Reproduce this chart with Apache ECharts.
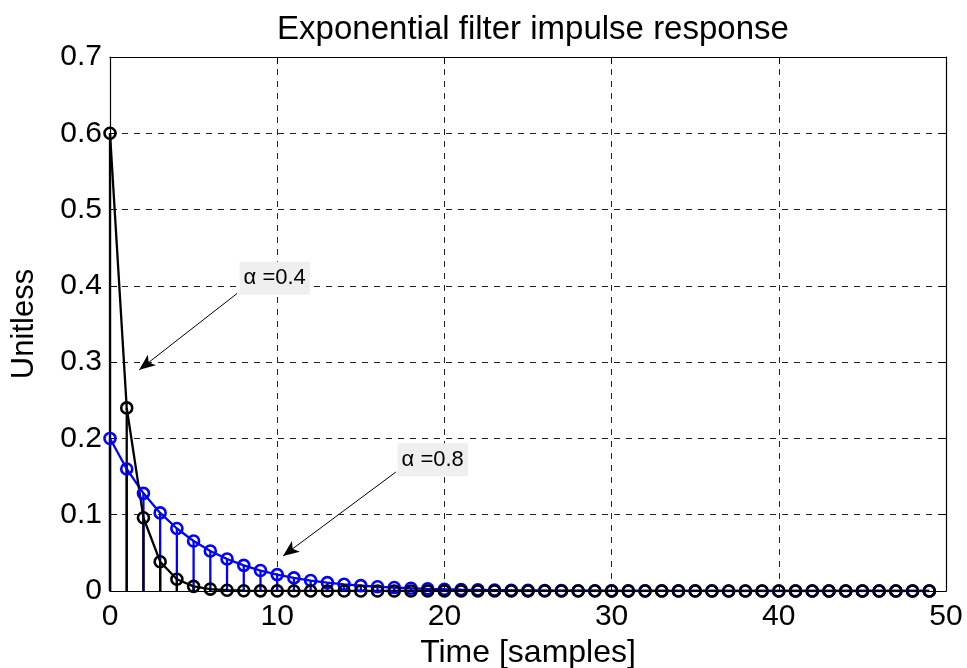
<!DOCTYPE html>
<html>
<head>
<meta charset="utf-8">
<script src="https://cdn.jsdelivr.net/npm/echarts@6/dist/echarts.min.js"></script>
<style>
  html, body { margin: 0; padding: 0; background: #ffffff; }
  #chart { width: 967px; height: 668px; }
</style>
</head>
<body>
<div id="chart"></div>
<script>
// Sample index (time in samples)
const samples = [0,1,2,3,4,5,6,7,8,9,10,11,12,13,14,15,16,17,18,19,20,21,22,23,24,
  25,26,27,28,29,30,31,32,33,34,35,36,37,38,39,40,41,42,43,44,45,46,47,48,49];

// Impulse response, alpha = 0.4 (black)
const respAlpha04 = [0.6,0.24,0.096,0.0384,0.0154,0.0061,0.0025,0.001,0.0004,0.0002,
  0.0001,0,0,0,0,0,0,0,0,0,0,0,0,0,0,0,0,0,0,0,0,0,0,0,0,0,0,0,0,0,0,0,0,0,0,0,0,0,0,0];

// Impulse response, alpha = 0.8 (blue)
const respAlpha08 = [0.2,0.16,0.128,0.1024,0.0819,0.0655,0.0524,0.0419,0.0336,0.0268,
  0.0215,0.0172,0.0137,0.011,0.0088,0.007,0.0056,0.0045,0.0036,0.0029,
  0.0023,0.0018,0.0015,0.0012,0.0009,0.0008,0.0006,0.0005,0.0004,0.0003,
  0.0002,0.0002,0.0002,0.0001,0.0001,0.0001,0.0001,0,0,0,0,0,0,0,0,0,0,0,0,0];

const xTicks = [0,10,20,30,40,50];
const yTicks = [0,0.1,0.2,0.3,0.4,0.5,0.6,0.7];

// Annotation text and arrow endpoints (data units)
const annotations = [
  { text: 'α =0.4', box: [9.85, 0.41], from: [7.6, 0.39], to: [1.75, 0.29] },
  { text: 'α =0.8', box: [19.3, 0.172], from: [17.1, 0.156], to: [10.35, 0.046] }
];

const FONT = '"Liberation Sans", Arial, Helvetica, sans-serif';

function pairs(ys) { return samples.map((x, i) => [x, ys[i]]); }

function stemSeries(ys, color) {
  return {
    type: 'custom',
    data: pairs(ys),
    silent: true,
    renderItem: function (params, api) {
      const p0 = api.coord([api.value(0), 0]);
      const p1 = api.coord([api.value(0), api.value(1)]);
      return {
        type: 'line',
        shape: { x1: p0[0], y1: p0[1], x2: p1[0], y2: p1[1] },
        style: { stroke: color, lineWidth: 2.3 }
      };
    }
  };
}

function lineSeries(ys, color, extra) {
  return Object.assign({
    type: 'line',
    data: pairs(ys),
    symbol: 'circle',
    symbolSize: 11,
    showAllSymbol: true,
    silent: true,
    animation: false,
    lineStyle: { color: color, width: 2.3 },
    itemStyle: { color: 'rgba(0,0,0,0)', borderColor: color, borderWidth: 2.6 }
  }, extra || {});
}

const chart = echarts.init(document.getElementById('chart'), null, { renderer: 'canvas' });

const axisCommon = {
  type: 'value',
  axisLine: { show: true, onZero: false, lineStyle: { color: '#000', width: 1.2 } },
  axisTick: { show: true, inside: true, length: 7, lineStyle: { color: '#000', width: 1 } }
};

chart.setOption({
  animation: false,
  backgroundColor: '#ffffff',
  title: {
    text: 'Exponential filter impulse response',
    left: 528, top: 8, textAlign: 'center',
    textStyle: { fontFamily: FONT, fontSize: 33, fontWeight: 'normal', color: '#000' }
  },
  grid: { left: 110, right: 21, top: 57, bottom: 77, containLabel: false, outerBoundsMode: 'none' },
  xAxis: [
    Object.assign({}, axisCommon, {
      min: xTicks[0], max: xTicks[xTicks.length - 1], interval: 10,
      position: 'bottom',
      name: 'Time [samples]', nameLocation: 'middle', nameGap: 37,
      nameTextStyle: { fontFamily: FONT, fontSize: 32, color: '#000' },
      axisLabel: { fontFamily: FONT, fontSize: 30, color: '#000', margin: 11 },
      splitLine: { show: true, lineStyle: { color: '#222', width: 1, type: [6, 6] } }
    }),
    Object.assign({}, axisCommon, {
      min: xTicks[0], max: xTicks[xTicks.length - 1], interval: 10,
      position: 'top', axisLabel: { show: false }, splitLine: { show: false }
    })
  ],
  yAxis: [
    Object.assign({}, axisCommon, {
      min: yTicks[0], max: yTicks[yTicks.length - 1], interval: 0.1,
      position: 'left',
      name: 'Unitless', nameLocation: 'middle', nameGap: 70, nameRotate: 90,
      nameTextStyle: { fontFamily: FONT, fontSize: 31, color: '#000' },
      axisLabel: {
        fontFamily: FONT, fontSize: 30, color: '#000', margin: 8,
        formatter: v => (v === 0 ? '0' : v.toFixed(1))
      },
      splitLine: { show: true, lineStyle: { color: '#222', width: 1, type: [6, 6] } }
    }),
    Object.assign({}, axisCommon, {
      min: yTicks[0], max: yTicks[yTicks.length - 1], interval: 0.1,
      position: 'right', axisLabel: { show: false }, splitLine: { show: false }
    })
  ],
  series: [
    stemSeries(respAlpha08, '#0000ff'),
    lineSeries(respAlpha08, '#0000ff'),
    stemSeries(respAlpha04, '#000000'),
    lineSeries(respAlpha04, '#000000', {
      markLine: {
        silent: true,
        symbol: ['none', 'arrow'],
        symbolSize: [10, 16],
        label: { show: false },
        lineStyle: { color: '#000', width: 1, type: 'solid' },
        data: annotations.map(a => [{ coord: a.from }, { coord: a.to }])
      },
      markPoint: {
        silent: true,
        symbol: 'rect',
        symbolSize: 1,
        itemStyle: { color: 'rgba(0,0,0,0)', borderWidth: 0 },
        label: {
          show: true, position: 'inside',
          fontFamily: FONT, fontSize: 22, color: '#000',
          backgroundColor: '#efefef', padding: [6, 4, 5, 4],
          formatter: p => p.name
        },
        data: annotations.map(a => ({ name: a.text, coord: a.box }))
      }
    }),
    // the trailing blue markers sit above the black ones
    {
      type: 'scatter',
      data: pairs(respAlpha08).slice(41),
      symbol: 'circle',
      symbolSize: 11,
      silent: true,
      itemStyle: { color: 'rgba(0,0,0,0)', borderColor: '#0000ff', borderWidth: 2.6 }
    }
  ]
});
</script>
</body>
</html>
